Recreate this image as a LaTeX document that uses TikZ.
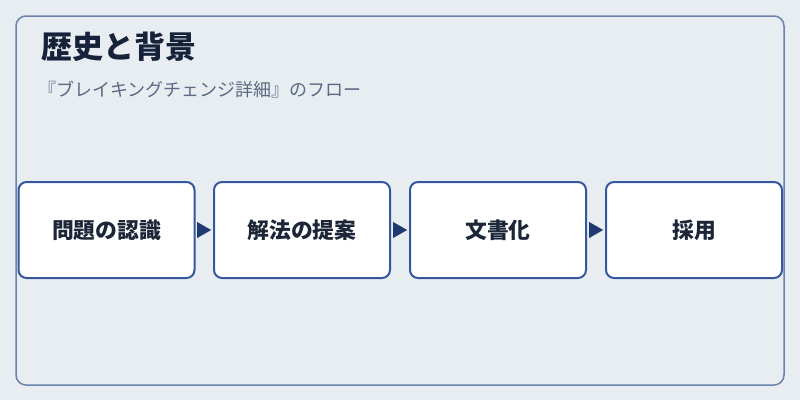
\documentclass[tikz,border=0pt]{standalone}
\usepackage{fontspec}
\setmainfont{Noto Sans CJK JP}
\newfontfamily\cjk{Noto Sans CJK JP}
\usetikzlibrary{arrows.meta}
\definecolor{bgc}{HTML}{E8EDF2}
\definecolor{framec}{HTML}{6B82AD}
\definecolor{boxc}{HTML}{3457A0}
\definecolor{arrc}{HTML}{1F3A70}
\definecolor{titlec}{HTML}{16223A}
\definecolor{subc}{HTML}{5A6A82}
\definecolor{textc}{HTML}{1C2638}
\tikzset{
  stepbox/.style={draw=boxc, line width=2pt, fill=white, rounded corners=8pt,
    minimum width=176pt, minimum height=96pt, inner sep=0pt,
    font=\cjk\bfseries\fontsize{21.8}{26}\selectfont, text=textc},
  flowarrow/.style={arrc, line width=0.1pt, -{Triangle[length=14pt,width=16pt]},
    shorten <=2pt, shorten >=2pt}
}
\begin{document}
\begin{tikzpicture}[x=1pt,y=-1pt]
\useasboundingbox (0,0) rectangle (800,400);
\fill[bgc] (0,0) rectangle (800,400);
\draw[framec, line width=1.5pt, rounded corners=10pt] (16,16) rectangle (784,385);
\node[anchor=west, text=titlec, font=\cjk\bfseries\fontsize{31}{36}\selectfont, inner sep=0pt] (title) at (41,47) {歴史と背景};
\node[anchor=west, text=subc, font=\cjk\fontsize{18}{21}\selectfont, inner sep=0pt] (sub) at (38,90) {『ブレイキングチェンジ詳細』のフロー};
\node[stepbox] (b1) at (106.5,230) {問題の認識};
\node[stepbox] (b2) at (302,230) {解法の提案};
\node[stepbox] (b3) at (498,230) {文書化};
\node[stepbox] (b4) at (694,230) {採用};
\draw[flowarrow] (b1.east) -- (b2.west);
\draw[flowarrow] (b2.east) -- (b3.west);
\draw[flowarrow] (b3.east) -- (b4.west);
\end{tikzpicture}
\end{document}
